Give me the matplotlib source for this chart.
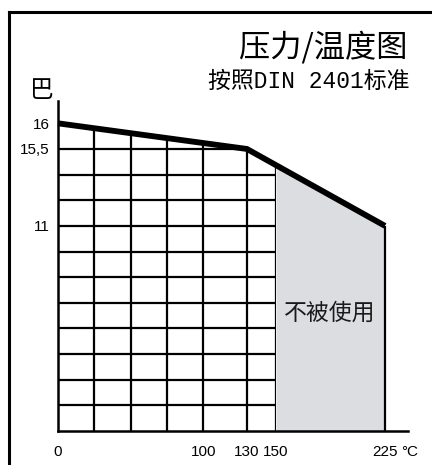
import numpy as np
import matplotlib
matplotlib.use('Agg')
import matplotlib.pyplot as plt
from matplotlib.patches import Polygon
from matplotlib.lines import Line2D

plt.rcParams['font.family'] = ['Noto Sans CJK SC', 'DejaVu Sans']

# 压力/温度曲线 (DIN 2401)
temps = [0, 130, 225]          # °C
pressures = [16, 15.5, 11]     # 巴
x_ticks = [0, 100, 130, 150, 225]
x_labels = ['0', '100', '130', '150', '225']
y_ticks = [16, 15.5, 11]
y_labels = ['16', '15,5', '11']
limit_temp = 150               # 右边灰色区域 = 不被使用

# 图是示意图, y轴不是线性的 -> 分段刻度
p_pts = [0, 11, 15.5, 16, 17]
u_pts = [0, 8, 11, 12, 14]

def fwd(p):
    return np.interp(p, p_pts, u_pts)

def inv(u):
    return np.interp(u, u_pts, p_pts)

fig = plt.figure(figsize=(4.32, 4.65), dpi=100)
ax = fig.add_axes([58 / 432, 34 / 465, 350 / 432, 330 / 465])
ax.set_yscale('function', functions=(fwd, inv))
ax.set_xlim(0, 350 / 1.4533)
ax.set_ylim(0, inv(330 / 25.64))

# 网格 (只画到曲线和150°C)
p_limit = np.interp(limit_temp, temps, pressures)
clip = Polygon([(0, 0), (temps[0], pressures[0]), (temps[1], pressures[1]),
                (limit_temp, p_limit), (limit_temp, 0)],
               closed=True, transform=ax.transData, facecolor='none', edgecolor='none')
v_lines = list(np.arange(25, 101, 25)) + [130, limit_temp]
vl = ax.vlines(v_lines, 0, 17, colors='black', lw=1.6)
vl.set_clip_path(clip)
hl = ax.hlines(inv(np.arange(1, 12)), 0, limit_temp, colors='black', lw=1.6)
hl.set_clip_path(clip)

# 灰色区域
xs = [limit_temp, temps[-1]]
ax.fill_between(xs, np.interp(xs, temps, pressures), 0, color='#dcdde0', lw=0)
ax.vlines(temps[-1], 0, pressures[-1], colors='black', lw=1.6)
ax.text(0.777, 0.358, '不被使用', transform=ax.transAxes, ha='center', va='center',
        fontsize=16.5, color='#1a1a1a')

# 压力线
ax.plot(temps, pressures, color='black', lw=4.2, solid_joinstyle='miter',
        solid_capstyle='butt', clip_on=False, zorder=5)

for s in ['top', 'right']:
    ax.spines[s].set_visible(False)
for s in ['left', 'bottom']:
    ax.spines[s].set_linewidth(1.8)
ax.set_xticks(x_ticks, x_labels, fontfamily='Liberation Sans', fontsize=11)
ax.set_yticks(y_ticks, y_labels, fontfamily='Liberation Sans', fontsize=11)
ax.minorticks_off()
ax.tick_params(axis='x', length=0, pad=10)
ax.tick_params(axis='y', length=0, pad=6)
ax.annotate('°C', xy=(225, 0), xytext=(16, -21), textcoords='offset pixels',
            ha='left', va='center', fontfamily='Liberation Sans', fontsize=11,
            annotation_clip=False)

# 标题
fig.text(408 / 432, 1 - 47 / 465, '压力/温度图', ha='right', va='center', fontsize=22.5)
fig.text(409 / 432, 1 - 81 / 465, '按照DIN 2401标准', ha='right', va='center',
         fontsize=16.5, family=['Liberation Mono', 'Noto Sans CJK SC'])
fig.text(42 / 432, 1 - 90 / 465, '巴', ha='center', va='center', fontsize=17)

# 外框
fig.add_artist(Line2D([8.5 / 432, 8.5 / 432], [0, 1 - 12 / 465], color='black', lw=2.2))
fig.add_artist(Line2D([8.5 / 432, 1], [1 - 12 / 465, 1 - 12 / 465], color='black', lw=2.2))

fig.savefig('out.png', dpi=100)
